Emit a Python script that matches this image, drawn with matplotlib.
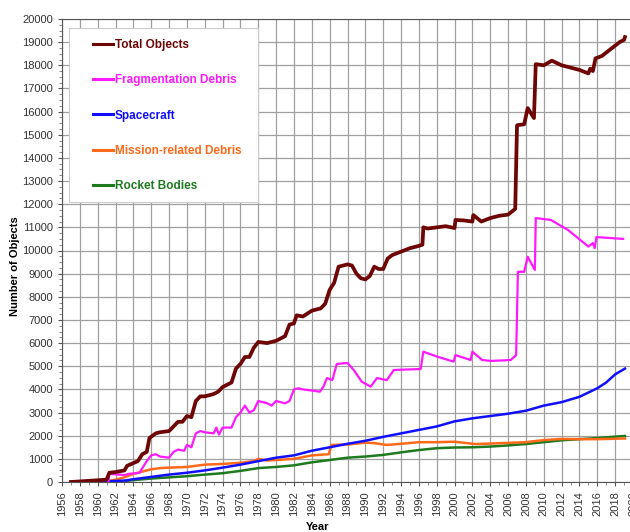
import numpy as np
import matplotlib.pyplot as plt
from matplotlib.ticker import MultipleLocator
from matplotlib.patches import Rectangle

plt.rcParams['font.family'] = ['Liberation Sans', 'DejaVu Sans']

# Cataloged objects in Earth orbit
total_yr = [1957, 1961, 1961.3, 1962, 1963, 1963.3, 1964.5, 1965, 1965.5, 1965.8,
            1966.5, 1967, 1968, 1968.5, 1969, 1969.5, 1970, 1970.5, 1971, 1971.5,
            1972, 1973, 1973.5, 1974, 1975, 1975.5, 1976, 1976.5, 1977, 1977.5,
            1978, 1979, 1980, 1981, 1981.5, 1982, 1982.3, 1983, 1984, 1985,
            1985.5, 1986, 1986.5, 1987, 1987.5, 1988, 1988.5, 1989, 1989.5, 1990,
            1990.5, 1991, 1991.5, 1992, 1992.5, 1993, 1994, 1995, 1996, 1996.4,
            1996.5, 1997, 1998, 1999, 2000, 2000.1, 2001, 2002, 2002.1, 2003,
            2004, 2005, 2006, 2006.8, 2007.0, 2007.1, 2007.8, 2008.2, 2008.9, 2009.1,
            2010, 2010.9, 2012, 2013, 2014, 2015.0, 2015.2, 2015.5, 2015.8, 2016.5,
            2017.5, 2018.5, 2019.0, 2019.1]
total_val = [0, 100, 400, 430, 500, 700, 900, 1200, 1300, 1900,
             2100, 2150, 2200, 2400, 2600, 2600, 2850, 2800, 3500, 3700,
             3700, 3800, 3900, 4100, 4300, 4900, 5100, 5400, 5400, 5800,
             6050, 6000, 6100, 6300, 6800, 6850, 7200, 7150, 7400, 7500,
             7700, 8300, 8600, 9300, 9350, 9400, 9350, 9000, 8800, 8750,
             8900, 9300, 9200, 9200, 9650, 9800, 9950, 10100, 10200, 10250,
             11000, 10950, 11000, 11050, 10970, 11320, 11300, 11250, 11530, 11250,
             11400, 11500, 11550, 11800, 15400, 15420, 15450, 16150, 15720, 18050,
             18000, 18200, 18000, 17900, 17800, 17650, 17850, 17750, 18300, 18400,
             18700, 19000, 19100, 19220]

frag_yr = [1961.2, 1961.3, 1962, 1963, 1963.5, 1964.7, 1965, 1965.5, 1966, 1966.5,
           1967, 1968, 1968.5, 1969, 1969.7, 1970, 1970.5, 1971, 1971.5, 1972,
           1973, 1973.3, 1973.6, 1974, 1975, 1975.5, 1976, 1976.5, 1977, 1977.5,
           1978, 1979, 1979.5, 1980, 1981, 1981.5, 1982, 1982.5, 1983, 1984,
           1984.9, 1985.3, 1985.7, 1986.3, 1986.8, 1988, 1988.7, 1989.6, 1990.6, 1991.3,
           1992.4, 1993.2, 1996.2, 1996.5, 1998.1, 1999.9, 2000.1, 2001.8, 2002, 2003.1,
           2004.1, 2006.3, 2006.9, 2007.1, 2007.8, 2008.2, 2009.0, 2009.1, 2010.8, 2012.7,
           2015.0, 2015.5, 2015.7, 2015.9, 2018.9]
frag_val = [0, 350, 330, 300, 350, 400, 600, 900, 1150, 1200,
            1100, 1050, 1300, 1400, 1350, 1600, 1500, 2100, 2200, 2150,
            2100, 2350, 2050, 2350, 2350, 2800, 3000, 3300, 3000, 3100,
            3500, 3400, 3300, 3500, 3400, 3500, 4000, 4050, 4000, 3950,
            3900, 4120, 4490, 4400, 5100, 5140, 4840, 4330, 4120, 4490,
            4400, 4840, 4880, 5630, 5410, 5200, 5480, 5270, 5630, 5270,
            5230, 5270, 5480, 9080, 9080, 9730, 9160, 11400, 11320, 10890,
            10170, 10320, 10100, 10580, 10500]

sc_yr = [1957, 1961, 1963, 1964, 1966, 1968, 1970, 1972, 1974, 1976, 1978, 1980,
         1982, 1984, 1986, 1988, 1990, 1992, 1994, 1996, 1998, 2000, 2002, 2004,
         2006, 2008, 2010, 2012, 2014, 2016, 2017, 2018, 2019.1]
sc_val = [0, 30, 60, 120, 220, 320, 400, 500, 620, 750, 900, 1050,
          1150, 1350, 1500, 1650, 1780, 1950, 2100, 2250, 2400, 2620, 2750, 2850,
          2950, 3080, 3300, 3450, 3680, 4050, 4300, 4650, 4900]

mission_yr = [1957, 1961, 1962, 1963, 1964, 1965, 1966, 1967, 1968, 1970, 1972, 1974,
              1976, 1977.5, 1978, 1979, 1980, 1982, 1984, 1985.9, 1986.2, 1988, 1990,
              1991, 1992.4, 1994, 1996, 1998, 2000, 2002.3, 2004, 2006, 2008, 2010,
              2012, 2014, 2016, 2019.1]
mission_val = [0, 30, 100, 200, 350, 450, 550, 600, 620, 650, 750, 780,
               830, 900, 1000, 930, 950, 1000, 1150, 1200, 1600, 1620, 1700,
               1680, 1600, 1650, 1720, 1720, 1740, 1640, 1660, 1690, 1720, 1810,
               1860, 1850, 1850, 1880]

rocket_yr = [1957, 1961, 1963, 1964, 1966, 1968, 1970, 1972, 1974, 1976, 1978, 1980,
             1982, 1984, 1986, 1988, 1990, 1992, 1994, 1996, 1998, 2000, 2002, 2004,
             2006, 2008, 2010, 2012, 2014, 2016, 2019.1]
rocket_val = [0, 20, 40, 80, 150, 200, 250, 320, 380, 480, 600, 650,
              720, 850, 950, 1050, 1100, 1170, 1280, 1380, 1460, 1490, 1500, 1530,
              1580, 1640, 1720, 1800, 1850, 1900, 1990]

W, H = 630, 532
fig = plt.figure(figsize=(W / 100, H / 100), dpi=100)
ax = fig.add_axes([62/W, 1 - 482/H, 571/W, 463/H])

ax.plot(total_yr, total_val, color='#6e0606', lw=2.7, label='Total Objects', zorder=6)
ax.plot(frag_yr, frag_val, color='#ff19ff', lw=1.6, label='Fragmentation Debris', zorder=5)
ax.plot(sc_yr, sc_val, color='#1010ff', lw=1.8, label='Spacecraft', zorder=4)
ax.plot(mission_yr, mission_val, color='#ff6a1a', lw=1.8, label='Mission-related Debris', zorder=3)
ax.plot(rocket_yr, rocket_val, color='#1f7a1f', lw=1.8, label='Rocket Bodies', zorder=2)

ax.set_xlim(1956, 2020)
ax.set_ylim(0, 20000)
ax.xaxis.set_major_locator(MultipleLocator(2))
ax.yaxis.set_major_locator(MultipleLocator(1000))
ax.yaxis.set_minor_locator(MultipleLocator(250))
ax.xaxis.set_minor_locator(MultipleLocator(1))
ax.grid(True, which='major', color='#a0a0a0', lw=0.9)
ax.set_axisbelow(True)
for s in ['left', 'bottom', 'top']:
    ax.spines[s].set_color('#555555')
ax.spines['right'].set_visible(False)
ax.tick_params(axis='both', which='major', labelsize=8, labelcolor='#333333',
               color='#555555', length=3)
ax.tick_params(axis='both', which='minor', color='#777777', length=2)
ax.tick_params(axis='x', labelrotation=90)

ax.set_xlabel('Year', fontsize=8, fontweight='bold')
ax.set_ylabel('Number of Objects', fontsize=8, fontweight='bold')
ax.xaxis.set_label_coords((318 - 62) / 571, (482 - 522) / 463)
ax.yaxis.set_label_coords((20 - 62) / 571, (482 - 266) / 463)

# legend box drawn separately so the entries can sit inset like the original
box = Rectangle((69/W, 1 - 202/H), 189/W, 174/H, transform=fig.transFigure,
                facecolor='white', edgecolor='#cccccc', lw=0.8, zorder=7,
                clip_on=False)
ax.add_artist(box)

leg = ax.legend(loc='upper left', bbox_to_anchor=(93/W, 1 - 39/H),
                bbox_transform=fig.transFigure, frameon=False,
                handlelength=1.7, handletextpad=0.15,
                labelspacing=1.97, borderpad=0, borderaxespad=0,
                prop={'weight': 'bold', 'size': 8.5})
leg.set_zorder(8)
for line, text in zip(leg.get_lines(), leg.get_texts()):
    text.set_color(line.get_color())
    line.set_linewidth(2.2)

fig.savefig('out.png', dpi=100)
